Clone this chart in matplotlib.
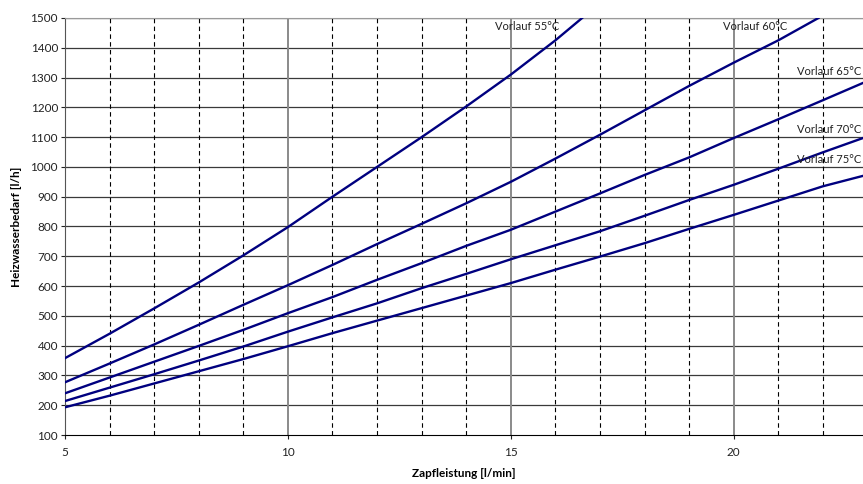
import numpy as np
import matplotlib
matplotlib.use("Agg")
import matplotlib.pyplot as plt

plt.rcParams['font.family'] = ['Lato', 'DejaVu Sans']

# Zapfleistung [l/min] vs Heizwasserbedarf [l/h]
x_55 = [5, 6, 7, 8, 9, 10, 11, 12, 13, 14, 15, 16, 16.6]
y_55 = [358, 440, 525, 612, 703, 798, 900, 1000, 1100, 1203, 1310, 1425, 1500]

x_60 = [5, 6, 7, 8, 9, 10, 11, 12, 13, 14, 15, 16, 17, 18, 19, 20, 21, 21.9]
y_60 = [277, 340, 404, 470, 537, 603, 671, 741, 809, 878, 950, 1028, 1108, 1190, 1272, 1350, 1425, 1500]

x_65 = [5, 6, 7, 8, 9, 10, 11, 12, 13, 14, 15, 16, 17, 18, 19, 20, 21, 22, 22.9]
y_65 = [240, 293, 346, 399, 453, 509, 563, 621, 677, 735, 789, 850, 911, 973, 1032, 1097, 1160, 1224, 1282]

x_70 = [5, 6, 7, 8, 9, 10, 11, 12, 13, 14, 15, 16, 17, 18, 19, 20, 21, 22, 22.9]
y_70 = [214, 259, 304, 350, 397, 447, 495, 542, 593, 641, 690, 737, 784, 836, 889, 940, 994, 1049, 1097]

x_75 = [5, 6, 7, 8, 9, 10, 11, 12, 13, 14, 15, 16, 17, 18, 19, 20, 21, 22, 22.9]
y_75 = [193, 232, 273, 314, 355, 398, 442, 484, 526, 568, 610, 655, 699, 744, 792, 839, 887, 935, 970]

labels = ['Vorlauf 55°C', 'Vorlauf 60°C', 'Vorlauf 65°C', 'Vorlauf 70°C', 'Vorlauf 75°C']
# right end of each label
label_pos = [(16.08, 1470), (21.19, 1470), (22.86, 1322), (22.86, 1127), (22.86, 1026)]

fig = plt.figure(figsize=(8.63, 4.84), dpi=100)
ax = fig.add_axes([65/863, 1-435/484, 1-65/863, (435-18)/484])

ax.set_xlim(5, 22.9)
ax.set_ylim(100, 1500)

# grid
for v in range(200, 1501, 100):
    ax.axhline(v, color='#3a3a3a', lw=0.9, zorder=1)
for v in range(6, 23):
    if v % 5 == 0:
        ax.axvline(v, color='#8a8a8a', lw=1.4, zorder=1)
    else:
        ax.axvline(v, color='black', lw=0.8, ls=(0, (4, 3)), zorder=1)

for xs, ys in [(x_55, y_55), (x_60, y_60), (x_65, y_65), (x_70, y_70), (x_75, y_75)]:
    ax.plot(xs, ys, color='#00007f', lw=1.7, zorder=3, clip_on=True)

for txt, (tx, ty) in zip(labels, label_pos):
    ax.text(tx, ty, txt, fontsize=8, color='#222222', ha='right', va='center', zorder=4)

ax.set_xticks([5, 10, 15, 20])
ax.set_yticks(range(100, 1501, 100))
ax.tick_params(axis='both', labelsize=8.5, colors='#222222', length=3, width=0.8)
ax.tick_params(axis='x', pad=6)
ax.tick_params(axis='y', pad=2)

ax.spines['right'].set_visible(False)
ax.spines['top'].set_color('#9a9a9a')
ax.spines['left'].set_color('#555555')
ax.spines['bottom'].set_color('black')

ax.set_xlabel('Zapfleistung [l/min]', fontsize=8.5, fontweight='bold', labelpad=7)
ax.set_ylabel('Heizwasserbedarf [l/h]', fontsize=8.5, fontweight='bold', labelpad=6)

fig.savefig('out.png', dpi=100)
